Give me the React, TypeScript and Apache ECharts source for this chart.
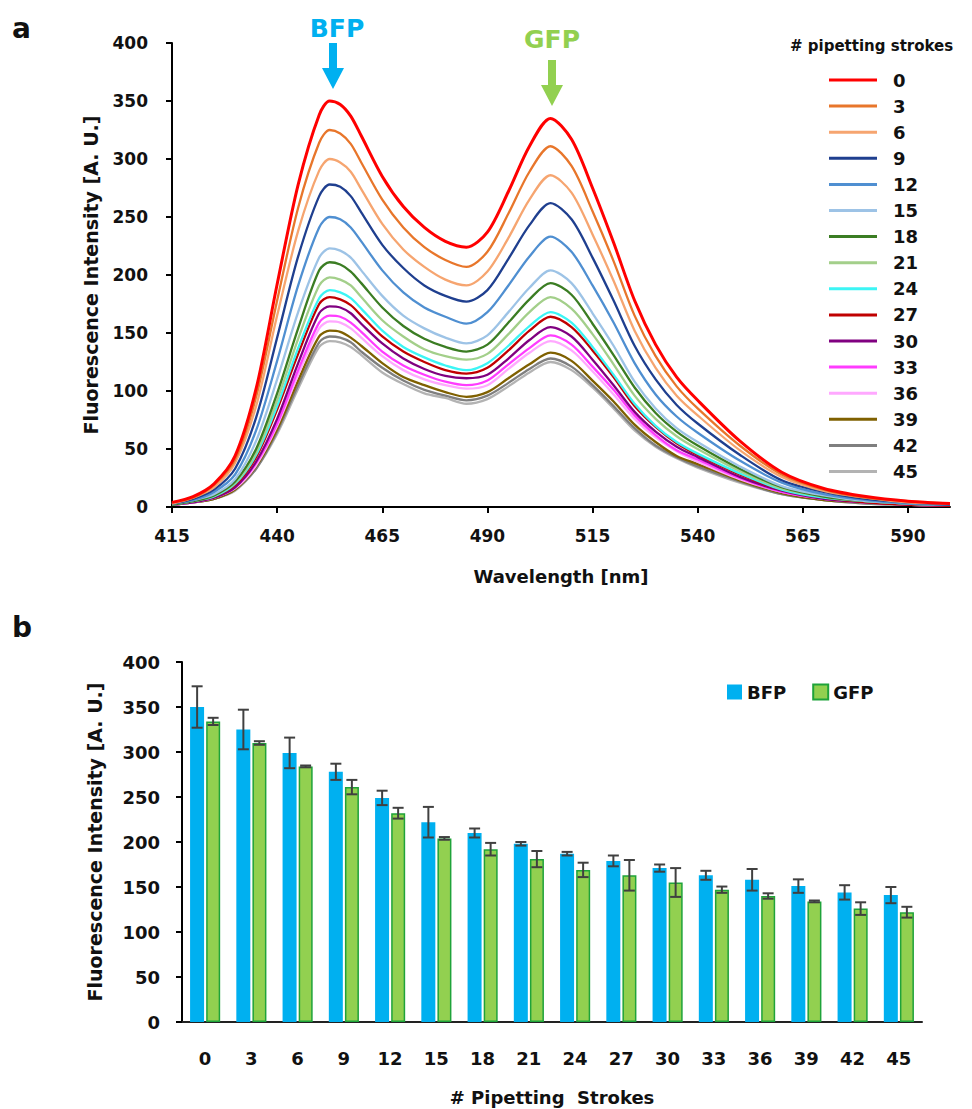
import React, { useEffect, useRef } from "react";
import * as echarts from "echarts";

// ---------- Panel a: emission spectra ----------
const wavelengths = [415, 420, 425, 430, 435, 440, 445, 450, 452.5, 455, 457.5, 460, 465, 470, 475, 480, 485, 490, 495, 500, 505, 510, 515, 520, 525, 530, 535, 540, 550, 560, 570, 580, 590, 600];

const spec0 = [4, 9, 20, 44, 102, 192, 278, 338, 350, 347, 337, 320, 285, 259, 241, 229, 224, 237, 272, 311, 335, 317, 275, 228, 178, 140, 112, 92, 57, 30, 16, 9, 5, 3];
const spec3 = [4, 8, 19, 41, 95, 178, 258, 314, 325, 322, 313, 297, 265, 241, 224, 213, 207, 220, 253, 289, 311, 294, 255, 212, 165, 130, 104, 85, 53, 28, 15, 8, 5, 3];
const spec6 = [3, 8, 17, 38, 87, 165, 238, 290, 300, 297, 289, 274, 244, 222, 207, 196, 191, 203, 232, 265, 286, 271, 235, 195, 152, 120, 96, 79, 49, 26, 14, 8, 4, 3];
const spec9 = [3, 7, 15, 33, 77, 146, 216, 268, 278, 276, 268, 254, 226, 206, 191, 182, 177, 187, 214, 243, 262, 248, 215, 178, 139, 110, 88, 72, 45, 23, 13, 7, 4, 2];
const spec12 = [3, 6, 13, 28, 66, 126, 191, 241, 250, 248, 241, 229, 204, 185, 172, 164, 158, 168, 191, 216, 233, 220, 191, 159, 124, 97, 78, 64, 40, 21, 11, 6, 3, 2];
const spec15 = [3, 6, 11, 24, 57, 110, 168, 215, 223, 221, 215, 204, 182, 165, 154, 146, 141, 148, 168, 189, 204, 193, 167, 139, 108, 85, 68, 56, 35, 18, 10, 5, 3, 2];
const spec18 = [2, 5, 10, 22, 50, 98, 154, 204, 211, 209, 203, 193, 172, 156, 145, 138, 134, 140, 159, 179, 193, 183, 158, 131, 103, 81, 65, 53, 33, 17, 9, 5, 3, 2];
const spec21 = [2, 5, 10, 21, 47, 92, 145, 191, 198, 196, 191, 181, 161, 147, 136, 130, 127, 132, 149, 168, 181, 171, 149, 123, 96, 76, 61, 50, 31, 16, 9, 5, 3, 2];
const spec24 = [2, 5, 9, 20, 45, 87, 137, 180, 187, 185, 180, 171, 152, 138, 129, 122, 118, 124, 139, 156, 168, 159, 138, 114, 89, 70, 56, 46, 29, 15, 8, 5, 3, 2];
const spec27 = [2, 5, 9, 19, 43, 84, 132, 175, 181, 179, 174, 165, 147, 134, 125, 118, 115, 120, 135, 152, 164, 155, 135, 112, 87, 69, 55, 45, 28, 15, 8, 4, 2, 1];
const spec30 = [2, 4, 8, 17, 39, 76, 124, 167, 173, 172, 167, 158, 141, 128, 119, 113, 111, 114, 128, 144, 155, 147, 127, 105, 82, 65, 52, 43, 26, 14, 7, 4, 2, 1];
const spec33 = [2, 4, 8, 17, 38, 72, 118, 159, 165, 164, 159, 151, 134, 122, 114, 108, 105, 109, 123, 137, 148, 140, 121, 101, 79, 62, 49, 41, 25, 13, 7, 4, 2, 1];
const spec36 = [2, 4, 8, 16, 36, 70, 114, 154, 160, 159, 154, 146, 130, 118, 110, 105, 102, 105, 119, 133, 143, 135, 117, 97, 76, 60, 48, 39, 24, 13, 7, 4, 2, 1];
const spec39 = [2, 4, 7, 15, 35, 67, 109, 147, 152, 151, 146, 139, 124, 112, 105, 99, 95, 99, 111, 123, 133, 126, 109, 91, 71, 56, 44, 37, 23, 12, 6, 4, 2, 1];
const spec42 = [2, 4, 7, 15, 33, 65, 105, 142, 147, 146, 142, 134, 120, 109, 101, 96, 92, 96, 107, 119, 128, 121, 105, 87, 68, 53, 43, 35, 22, 11, 6, 3, 2, 1];
const spec45 = [2, 4, 7, 14, 33, 63, 102, 138, 143, 142, 138, 131, 116, 106, 98, 94, 89, 93, 104, 116, 125, 118, 103, 85, 66, 52, 42, 34, 21, 11, 6, 3, 2, 1];

const strokeLabels = ["0", "3", "6", "9", "12", "15", "18", "21", "24", "27", "30", "33", "36", "39", "42", "45"];
const spectra = [spec0, spec3, spec6, spec9, spec12, spec15, spec18, spec21, spec24, spec27, spec30, spec33, spec36, spec39, spec42, spec45];
const lineColors = ["#FF0000", "#E8762B", "#F6A570", "#1F3F8F", "#4F8FD1", "#9DC3E6", "#3B7D23", "#A3CF8A", "#3CF5F5", "#C00000", "#800080", "#FF3CFF", "#FFA8FF", "#7F6000", "#7F7F7F", "#B3B3B3"];
const xTicksA = [415, 440, 465, 490, 515, 540, 565, 590];

// ---------- Panel b: peak intensities ----------
const bfpMean = [350, 325, 299, 278, 249, 222, 210, 198, 187, 179, 171, 163, 158, 151, 144, 141];
const bfpErr = [23, 22, 17, 9, 8, 17, 5, 2, 2, 6, 4, 5, 12, 7.5, 8, 9];
const gfpMean = [334, 310, 284, 261, 232, 204, 192, 181, 169, 163, 155, 147, 140, 134, 126, 122];
const gfpErr = [4, 2, 1, 8, 6, 1.5, 7, 9, 8, 17, 16, 3.5, 3, 1, 7, 6];

const FONT = "DejaVu Sans";
const INK = "#111111";
const BAR_W = 14;
const BAR_OFF = 8;

export default function App() {
  const ref = useRef<HTMLDivElement>(null);

  useEffect(() => {
    if (!ref.current) return;
    const chart = echarts.init(ref.current, null, { renderer: "svg" });

    const lineSeries: any[] = [];
    for (let k = spectra.length - 1; k >= 0; k--) {
      lineSeries.push({
        type: "line",
        name: strokeLabels[k],
        xAxisIndex: 0,
        yAxisIndex: 0,
        data: wavelengths.map((w, i) => [w, spectra[k][i]]),
        symbol: "none",
        showSymbol: false,
        smooth: 0.3,
        lineStyle: { color: lineColors[k], width: k === 0 ? 3 : 2.3 },
        itemStyle: { color: lineColors[k] },
      });
    }

    const errData: number[][] = [];
    bfpMean.forEach((m, i) => errData.push([i, m - bfpErr[i], m + bfpErr[i], 0]));
    gfpMean.forEach((m, i) => errData.push([i, m - gfpErr[i], m + gfpErr[i], 1]));

    const axisTextA = { fontFamily: FONT, fontWeight: "bold", fontSize: 17, color: INK };
    const axisTextB = { fontFamily: FONT, fontWeight: "bold", fontSize: 18, color: INK };
    const nameText = { fontFamily: FONT, fontWeight: "bold", fontSize: 18, color: INK };

    const option: any = {
      animation: false,
      backgroundColor: "#ffffff",
      grid: [
        { left: 172, top: 43, width: 778, height: 464 },
        { left: 182, top: 662, width: 740, height: 360 },
      ],
      xAxis: [
        {
          type: "value",
          gridIndex: 0,
          min: 415,
          max: 600,
          splitLine: { show: false },
          axisLine: { show: true, lineStyle: { color: "#000", width: 2 } },
          axisTick: { show: true, customValues: xTicksA, length: 6, lineStyle: { color: "#000", width: 2 } },
          axisLabel: { customValues: xTicksA, margin: 20, ...axisTextA },
          name: "Wavelength [nm]",
          nameLocation: "middle",
          nameGap: 60,
          nameTextStyle: nameText,
        },
        {
          type: "category",
          gridIndex: 1,
          data: strokeLabels,
          axisLine: { show: true, lineStyle: { color: "#222", width: 2 } },
          axisTick: { show: false },
          axisLabel: { margin: 27, ...axisTextB },
          name: "# Pipetting  Strokes",
          nameLocation: "middle",
          nameGap: 66,
          nameTextStyle: nameText,
        },
      ],
      yAxis: [
        {
          type: "value",
          gridIndex: 0,
          min: 0,
          max: 400,
          interval: 50,
          splitLine: { show: false },
          axisLine: { show: true, lineStyle: { color: "#000", width: 2 } },
          axisTick: { show: true, length: 6, lineStyle: { color: "#000", width: 2 } },
          axisLabel: { margin: 24, ...axisTextA },
          name: "Fluorescence Intensity [A. U.]",
          nameLocation: "middle",
          nameGap: 72,
          nameTextStyle: { ...nameText, fontSize: 19 },
        },
        {
          type: "value",
          gridIndex: 1,
          min: 0,
          max: 400,
          interval: 50,
          splitLine: { show: false },
          axisLine: { show: true, lineStyle: { color: "#000", width: 2 } },
          axisTick: { show: true, length: 6, lineStyle: { color: "#000", width: 2 } },
          axisLabel: { margin: 22, ...axisTextB },
          name: "Fluorescence Intensity [A. U.]",
          nameLocation: "middle",
          nameGap: 78,
          nameTextStyle: { ...nameText, fontSize: 19 },
        },
      ],
      legend: [
        {
          data: strokeLabels,
          orient: "vertical",
          left: 829,
          top: 71,
          icon: "rect",
          itemWidth: 48,
          itemHeight: 3,
          itemGap: 8.1,
          padding: 0,
          selectedMode: false,
          textStyle: { fontFamily: FONT, fontWeight: "bold", fontSize: 18, color: INK, padding: [0, 0, 0, 11] },
        },
        {
          data: ["BFP", "GFP"],
          orient: "horizontal",
          left: 727,
          top: 683,
          itemWidth: 15,
          itemHeight: 15,
          itemGap: 26,
          padding: 0,
          icon: "rect",
          selectedMode: false,
          textStyle: { fontFamily: FONT, fontWeight: "bold", fontSize: 18, color: INK },
        },
      ],
      series: [
        ...lineSeries,
        {
          type: "bar",
          name: "BFP",
          xAxisIndex: 1,
          yAxisIndex: 1,
          data: bfpMean,
          barWidth: BAR_W,
          barGap: "15%",
          itemStyle: { color: "#00B0F0" },
        },
        {
          type: "bar",
          name: "GFP",
          xAxisIndex: 1,
          yAxisIndex: 1,
          data: gfpMean,
          barWidth: BAR_W,
          barGap: "15%",
          itemStyle: { color: "#92D050", borderColor: "#1FA33A", borderWidth: 1.5 },
        },
        {
          type: "custom",
          name: "error",
          xAxisIndex: 1,
          yAxisIndex: 1,
          data: errData,
          encode: { x: 0, y: [1, 2] },
          z: 10,
          renderItem: (params: any, api: any) => {
            const ci = api.value(0);
            const lo = api.value(1);
            const hi = api.value(2);
            const which = api.value(3);
            const top = api.coord([ci, hi]);
            const bot = api.coord([ci, lo]);
            const x = top[0] + (which === 0 ? -BAR_OFF : BAR_OFF);
            const hw = 5.5;
            const style = { stroke: "#404040", lineWidth: 2 };
            return {
              type: "group",
              children: [
                { type: "line", shape: { x1: x, y1: top[1], x2: x, y2: bot[1] }, style },
                { type: "line", shape: { x1: x - hw, y1: top[1], x2: x + hw, y2: top[1] }, style },
                { type: "line", shape: { x1: x - hw, y1: bot[1], x2: x + hw, y2: bot[1] }, style },
              ],
            };
          },
        },
      ],
      graphic: [
        { type: "text", x: 12, y: 28, style: { text: "a", fill: INK, font: `bold 28px "${FONT}"`, verticalAlign: "middle" } },
        { type: "text", x: 12, y: 627, style: { text: "b", fill: INK, font: `bold 28px "${FONT}"`, verticalAlign: "middle" } },
        { type: "text", x: 337, y: 28, style: { text: "BFP", fill: "#00B0F0", font: `bold 25px "${FONT}"`, align: "center", verticalAlign: "middle" } },
        { type: "text", x: 552, y: 39, style: { text: "GFP", fill: "#92D050", font: `bold 25px "${FONT}"`, align: "center", verticalAlign: "middle" } },
        {
          type: "polygon",
          shape: { points: [[329, 43], [337, 43], [337, 68], [344, 68], [333, 89], [322, 68], [329, 68]] },
          style: { fill: "#00B0F0" },
        },
        {
          type: "polygon",
          shape: { points: [[548, 60], [556, 60], [556, 85], [563, 85], [552, 106], [541, 85], [548, 85]] },
          style: { fill: "#92D050" },
        },
        { type: "text", x: 790, y: 46, style: { text: "# pipetting strokes", fill: INK, font: `bold 15px "${FONT}"`, verticalAlign: "middle" } },
      ],
    };

    chart.setOption(option);
    return () => chart.dispose();
  }, []);

  return (
    <div
      ref={ref}
      style={{ position: "absolute", left: 0, top: 0, width: 972, height: 1109, background: "#ffffff" }}
    />
  );
}
